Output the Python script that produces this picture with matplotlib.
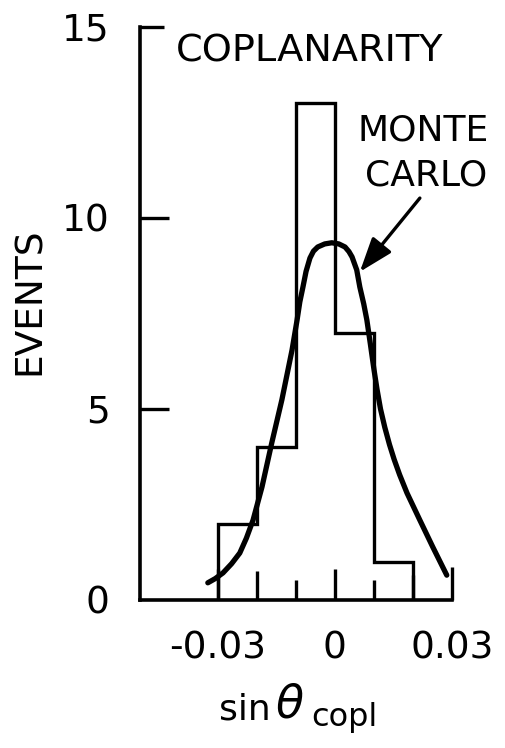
import matplotlib
matplotlib.use("Agg")
import matplotlib.pyplot as plt

# ---- data ----
bin_edges = [-0.03, -0.02, -0.01, 0.0, 0.01, 0.02]
counts = [2, 4, 13, 7, 1]

mc_x = [-0.0326, -0.0307, -0.0287, -0.0265, -0.0244, -0.0227, -0.0210, -0.0187,
        -0.0162, -0.0136, -0.0110, -0.0097, -0.0090, -0.0082, -0.0074, -0.0064,
        -0.0055, -0.0044, -0.0026, -0.0008, 0.0010, 0.0026, 0.0036, 0.0044,
        0.0056, 0.0064, 0.0074, 0.0082, 0.0091, 0.0100, 0.0108, 0.0117,
        0.0128, 0.0140, 0.0152, 0.0166, 0.0185, 0.0218, 0.0251, 0.0287]
mc_y = [0.45, 0.56, 0.71, 0.95, 1.23, 1.62, 2.09, 2.96,
        4.11, 5.24, 6.54, 7.33, 7.80, 8.19, 8.60, 8.95,
        9.13, 9.24, 9.32, 9.35, 9.32, 9.24, 9.12, 8.98,
        8.64, 8.19, 7.75, 7.33, 6.70, 6.05, 5.52, 5.00,
        4.52, 4.07, 3.68, 3.28, 2.80, 2.09, 1.39, 0.65]

x_ticks = [-0.03, -0.02, -0.01, 0.0, 0.01, 0.02, 0.03]
x_ticklabels = ["-0.03", "", "", "0", "", "", "0.03"]
y_ticks = [0, 5, 10, 15]
y_ticklabels = ["0", "5", "10", "15"]

plt.rcParams['font.family'] = ['DejaVu Sans']
plt.rcParams['mathtext.fontset'] = 'dejavusans'

fig = plt.figure(figsize=(5.06, 7.48), dpi=100)
ax = fig.add_axes([140/506, 1-600/748, 313/506, 575/748])

ax.set_xlim(-0.05, 0.0303)
ax.set_ylim(0, 15.05)

ax.stairs(counts, bin_edges, baseline=0, color='black', lw=2.4)
ax.plot(mc_x, mc_y, color='black', lw=3.8, solid_capstyle='round',
        solid_joinstyle='round')

for s in ['top', 'right']:
    ax.spines[s].set_visible(False)
for s in ['left', 'bottom']:
    ax.spines[s].set_linewidth(2.6)
ax.spines['left'].set_bounds(0, 15)
ax.spines['bottom'].set_bounds(-0.05, 0.03)

ax.set_xticks(x_ticks)
ax.set_xticklabels(x_ticklabels)
ax.set_yticks(y_ticks)
ax.set_yticklabels(y_ticklabels)
ax.tick_params(axis='both', direction='in', width=2.4, colors='black',
               labelsize=27)
ax.tick_params(axis='x', length=22, pad=22)
ax.tick_params(axis='y', length=21, pad=22)

xl = [22, 21, 14.5, 22, 14.5, 18, 24]
for t, L in zip(ax.xaxis.get_major_ticks(), xl):
    t.tick1line.set_markersize(L)
yl = [0, 21, 21, 17]
for t, L in zip(ax.yaxis.get_major_ticks(), yl):
    t.tick1line.set_markersize(L)

ax.text(-0.0064, 14.35, "COPLANARITY", fontsize=27.5, ha='center', va='center')
ax.text(0.0226, 12.28, "MONTE", fontsize=26, ha='center', va='center')
ax.text(0.0233, 11.1, "CARLO", fontsize=26, ha='center', va='center')
ax.annotate("", xy=(0.0064, 8.59), xytext=(0.0218, 10.52),
            arrowprops=dict(arrowstyle='-|>,head_length=0.7,head_width=0.25',
                            color='black', lw=2.4,
                            mutation_scale=30, shrinkA=0, shrinkB=0))

fig.text(30/506, 1-301/748, "EVENTS", rotation=90, fontsize=27,
         ha='center', va='center')
fig.text(219/506, 1-720/748, "sin", fontsize=26, ha='left', va='baseline')
fig.text(275/506, 1-717/748, r"$\theta$", fontsize=33, ha='left', va='baseline')
fig.text(311/506, 1-726/748, "copl", fontsize=23, ha='left', va='baseline')

fig.savefig("out.png", dpi=100)
